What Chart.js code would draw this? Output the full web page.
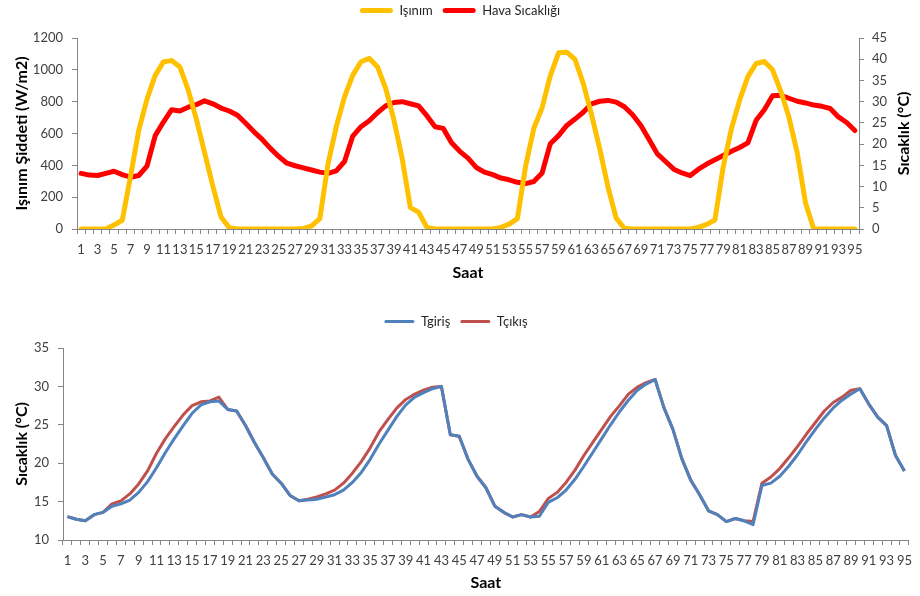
<!DOCTYPE html>
<html lang="tr">
<head>
<meta charset="utf-8">
<title>Işınım ve Sıcaklık</title>
<script src="https://cdn.jsdelivr.net/npm/chart.js@4.4.1/dist/chart.umd.min.js"></script>
<style>
  html, body { margin: 0; padding: 0; background: #ffffff; }
  #wrap { position: relative; width: 920px; height: 596px; overflow: hidden; }
  canvas { position: absolute; left: 0; }
  #top { top: -6px; }
  #bottom { top: 296px; }
</style>
</head>
<body>
<div id="wrap">
  <canvas id="top" width="920" height="302"></canvas>
  <canvas id="bottom" width="920" height="300"></canvas>
</div>
<script>
// Saat (hour index) categories shared by both charts
const saat = [1, 2, 3, 4, 5, 6, 7, 8, 9, 10, 11, 12, 13, 14, 15, 16, 17, 18, 19, 20,
  21, 22, 23, 24, 25, 26, 27, 28, 29, 30, 31, 32, 33, 34, 35, 36, 37, 38, 39, 40,
  41, 42, 43, 44, 45, 46, 47, 48, 49, 50, 51, 52, 53, 54, 55, 56, 57, 58, 59, 60,
  61, 62, 63, 64, 65, 66, 67, 68, 69, 70, 71, 72, 73, 74, 75, 76, 77, 78, 79, 80,
  81, 82, 83, 84, 85, 86, 87, 88, 89, 90, 91, 92, 93, 94, 95];

// Solar irradiance, W/m2
const isinim = [0, 0, 0, 0, 25, 55, 330, 620, 815, 965, 1050, 1058, 1018, 875, 690, 480, 270, 75, 8, 0,
  0, 0, 0, 0, 0, 0, 0, 3, 20, 65, 410, 643, 830, 967, 1051, 1072, 1020, 884, 685, 444,
  134, 106, 10, 0, 0, 0, 0, 0, 0, 0, 0, 10, 31, 65, 395, 633, 762, 963, 1107, 1111,
  1065, 915, 720, 505, 265, 68, 4, 0, 0, 0, 0, 0, 0, 0, 0, 10, 29, 57, 390, 630,
  810, 957, 1040, 1052, 1000, 865, 700, 478, 165, 0, 0, 0, 0, 0, 0];

// Ambient air temperature, °C
const havaSicakligi = [13.1, 12.7, 12.6, 13.1, 13.6, 12.8, 12.2, 12.6, 14.8, 22.0, 25.2, 28.1, 27.8, 28.7, 29.3, 30.2, 29.5, 28.5, 27.8, 26.8,
  24.9, 22.9, 21.1, 19.0, 17.1, 15.5, 14.9, 14.4, 13.9, 13.4, 13.1, 13.7, 15.9, 21.9, 24.1, 25.5, 27.4, 29.0, 29.8, 30.0,
  29.5, 29.0, 26.7, 24.1, 23.7, 20.3, 18.3, 16.7, 14.5, 13.4, 12.8, 12.0, 11.6, 11.0, 10.7, 11.2, 13.2, 20.1, 22.0, 24.4,
  25.9, 27.5, 29.5, 30.1, 30.3, 29.9, 28.8, 26.9, 24.4, 21.1, 17.7, 15.9, 14.1, 13.2, 12.6, 14.1, 15.3, 16.3, 17.3, 18.3,
  19.2, 20.3, 25.6, 28.1, 31.4, 31.5, 30.8, 30.1, 29.7, 29.2, 28.9, 28.4, 26.4, 25.1, 23.2];

// Inlet temperature, °C
const tGiris = [13.05, 12.7, 12.5, 13.3, 13.6, 14.4, 14.7, 15.2, 16.2, 17.6, 19.4, 21.4, 23.2, 24.9, 26.5, 27.6, 28.0, 28.1, 27.0, 26.8,
  24.9, 22.7, 20.7, 18.6, 17.4, 15.8, 15.1, 15.2, 15.3, 15.6, 15.9, 16.5, 17.5, 18.8, 20.5, 22.5, 24.3, 26.1, 27.6, 28.6,
  29.2, 29.7, 30.0, 23.7, 23.5, 20.5, 18.3, 16.8, 14.4, 13.6, 13.0, 13.3, 13.0, 13.1, 14.9, 15.5, 16.5, 17.9, 19.6, 21.4,
  23.2, 25.0, 26.7, 28.2, 29.5, 30.3, 30.9, 27.2, 24.4, 20.6, 17.8, 15.9, 13.8, 13.3, 12.4, 12.8, 12.5, 12.0, 17.1, 17.4,
  18.3, 19.6, 21.1, 22.8, 24.4, 25.9, 27.2, 28.2, 29.0, 29.7, 27.7, 26.0, 24.9, 21.0, 19.0];

// Outlet temperature, °C
const tCikis = [13.05, 12.7, 12.5, 13.3, 13.6, 14.7, 15.1, 16.0, 17.3, 19.0, 21.3, 23.2, 24.8, 26.3, 27.5, 28.0, 28.1, 28.6, 27.0, 26.8,
  24.9, 22.7, 20.7, 18.6, 17.4, 15.8, 15.1, 15.3, 15.6, 16.0, 16.5, 17.4, 18.7, 20.2, 22.0, 24.1, 25.7, 27.2, 28.3, 29.0,
  29.5, 29.9, 30.0, 23.7, 23.5, 20.5, 18.3, 16.8, 14.4, 13.6, 13.0, 13.3, 13.0, 13.7, 15.4, 16.2, 17.5, 19.1, 21.0, 22.7,
  24.4, 26.1, 27.5, 29.0, 29.9, 30.5, 30.9, 27.2, 24.4, 20.6, 17.8, 15.9, 13.8, 13.3, 12.4, 12.8, 12.5, 12.4, 17.4, 18.2,
  19.3, 20.7, 22.2, 23.8, 25.3, 26.8, 27.9, 28.6, 29.5, 29.7, 27.7, 26.0, 24.9, 21.0, 19.0];

const FONT = "Lato, 'Open Sans', 'DejaVu Sans', sans-serif";
const AXIS_GREY = '#868686';
const TICK_TEXT = '#404040';

Chart.defaults.font.family = FONT;
Chart.defaults.color = TICK_TEXT;

// Legend entries drawn as short thick bars in the series colour, no outline
function legendLabels(barWidth, barHeight) {
  return {
    boxWidth: barWidth,
    boxHeight: barHeight,
    padding: 10,
    color: '#262626',
    font: { size: 13 },
    useBorderRadius: true,
    borderRadius: barHeight / 2,
    generateLabels(chart) {
      return Chart.defaults.plugins.legend.labels.generateLabels(chart).map(item => {
        item.lineWidth = 0;
        item.fillStyle = chart.data.datasets[item.datasetIndex].borderColor;
        return item;
      });
    }
  };
}

// Extra space between the legend row and the plot area
function legendGap(extra) {
  return {
    id: 'legendGap',
    beforeLayout(chart) {
      const legend = chart.legend;
      if (!legend || legend._gapAdded) return;
      const baseFit = legend.fit;
      legend.fit = function () {
        baseFit.call(this);
        this.height += extra;
      };
      legend._gapAdded = true;
    }
  };
}

// Plain integer tick labels (no thousands separator)
const plainNumber = value => String(value);

// Category axis: tick marks between every hour, labels on odd hours only
function hourAxis(height, titlePadBottom) {
  return {
    type: 'category',
    offset: true,
    afterFit(scale) { scale.height = height; },
    grid: { display: true, drawOnChartArea: false, offset: true, color: AXIS_GREY, tickLength: 5 },
    border: { display: true, color: AXIS_GREY, width: 1 },
    ticks: {
      autoSkip: false,
      maxRotation: 0,
      minRotation: 0,
      padding: 8,
      font: { size: 13 },
      color: TICK_TEXT,
      callback(value, index) { return index % 2 === 0 ? saat[index] : ''; }
    },
    title: {
      display: true,
      text: 'Saat',
      color: '#000000',
      font: { size: 16, weight: 'bold' },
      padding: { top: 0, bottom: titlePadBottom }
    }
  };
}

// Right-hand axis title reading bottom-to-top
const rightTitle = {
  id: 'rightTitle',
  afterDraw(chart) {
    const area = chart.chartArea;
    const ctx = chart.ctx;
    ctx.save();
    ctx.translate(904, (area.top + area.bottom) / 2);
    ctx.rotate(-Math.PI / 2);
    ctx.textAlign = 'center';
    ctx.textBaseline = 'middle';
    ctx.fillStyle = '#000000';
    ctx.font = 'bold 16px ' + FONT;
    ctx.fillText('Sıcaklık (°C)', 0, 0);
    ctx.restore();
  }
};

new Chart(document.getElementById('top'), {
  type: 'line',
  data: {
    labels: saat,
    datasets: [
      {
        label: 'Işınım',
        data: isinim,
        yAxisID: 'y',
        borderColor: '#FFC000',
        backgroundColor: '#FFC000',
        borderWidth: 5,
        pointRadius: 0,
        tension: 0,
        borderJoinStyle: 'round',
        borderCapStyle: 'round'
      },
      {
        label: 'Hava Sıcaklığı',
        data: havaSicakligi,
        yAxisID: 'y1',
        borderColor: '#FF0000',
        backgroundColor: '#FF0000',
        borderWidth: 5,
        pointRadius: 0,
        tension: 0,
        borderJoinStyle: 'round',
        borderCapStyle: 'round'
      }
    ]
  },
  options: {
    responsive: false,
    animation: false,
    layout: { padding: { left: 0, right: 0, top: 0, bottom: 0 } },
    plugins: {
      legend: { position: 'top', labels: legendLabels(33, 5) },
      tooltip: { enabled: false }
    },
    scales: {
      x: hourAxis(67, 14),
      y: {
        position: 'left',
        min: 0,
        max: 1200,
        afterFit(scale) { scale.width = 77; },
        grid: { display: true, drawOnChartArea: false, color: AXIS_GREY, tickLength: 5 },
        border: { display: true, color: AXIS_GREY, width: 1 },
        ticks: { stepSize: 200, padding: 9, font: { size: 13 }, color: TICK_TEXT, callback: plainNumber },
        title: {
          display: true,
          text: 'Işınım Şiddeti (W/m2)',
          color: '#000000',
          font: { size: 16, weight: 'bold' },
          padding: { top: 12, bottom: 0 }
        }
      },
      y1: {
        position: 'right',
        min: 0,
        max: 45,
        afterFit(scale) { scale.width = 61; },
        grid: { display: true, drawOnChartArea: false, color: AXIS_GREY, tickLength: 5 },
        border: { display: true, color: AXIS_GREY, width: 1 },
        ticks: { stepSize: 5, padding: 8, font: { size: 13 }, color: TICK_TEXT, callback: plainNumber }
      }
    }
  },
  plugins: [rightTitle, legendGap(11)]
});

new Chart(document.getElementById('bottom'), {
  type: 'line',
  data: {
    labels: saat,
    datasets: [
      {
        label: 'Tgiriş',
        data: tGiris,
        borderColor: '#4F81BD',
        backgroundColor: '#4F81BD',
        borderWidth: 3,
        pointRadius: 0,
        tension: 0,
        borderJoinStyle: 'round'
      },
      {
        label: 'Tçıkış',
        data: tCikis,
        borderColor: '#C0504D',
        backgroundColor: '#C0504D',
        borderWidth: 3,
        pointRadius: 0,
        tension: 0,
        borderJoinStyle: 'round'
      }
    ]
  },
  options: {
    responsive: false,
    animation: false,
    layout: { padding: { left: 0, right: 8, top: 9, bottom: 0 } },
    plugins: {
      legend: { position: 'top', labels: legendLabels(30, 3) },
      tooltip: { enabled: false }
    },
    scales: {
      x: hourAxis(56, 4),
      y: {
        position: 'left',
        min: 10,
        max: 35,
        afterFit(scale) { scale.width = 63; },
        grid: { display: true, drawOnChartArea: false, color: AXIS_GREY, tickLength: 5 },
        border: { display: true, color: AXIS_GREY, width: 1 },
        ticks: { stepSize: 5, padding: 9, font: { size: 13 }, color: TICK_TEXT, callback: plainNumber },
        title: {
          display: true,
          text: 'Sıcaklık (°C)',
          color: '#000000',
          font: { size: 16, weight: 'bold' },
          padding: { top: 12, bottom: 0 }
        }
      }
    }
  },
  plugins: [legendGap(10)]
});
</script>
</body>
</html>
